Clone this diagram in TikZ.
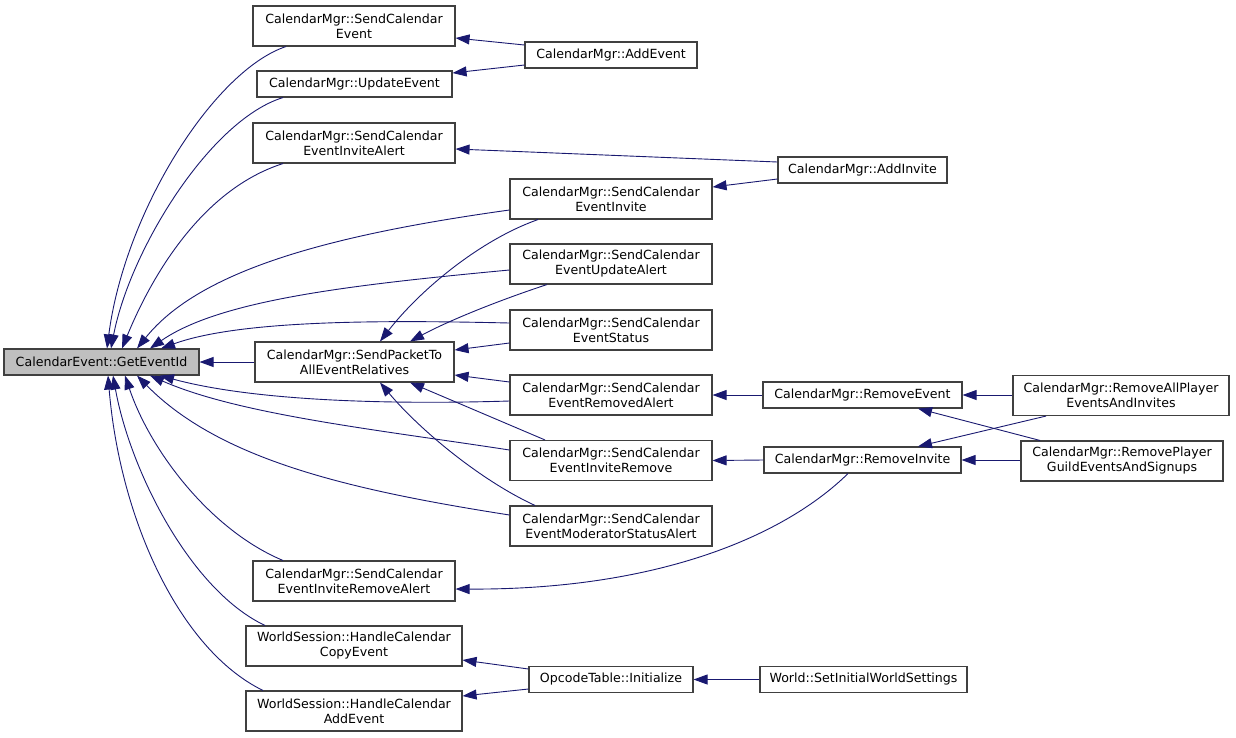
\documentclass[tikz,border=0pt]{standalone}
\usepackage{fontspec}
\setmainfont{DejaVu Sans}
\usetikzlibrary{arrows.meta}
\definecolor{edgeblue}{HTML}{191970}
\definecolor{boxline}{HTML}{404040}
\tikzset{
  fn/.style={draw=boxline, line width=1.1pt, fill=white, inner sep=0pt, align=center,
    font=\fontsize{12.6}{15}\selectfont},
  edge/.style={draw=edgeblue, line width=0.9pt, {Triangle[length=14pt,width=10pt]}-}
}
\begin{document}
\begin{tikzpicture}[x=1pt,y=-1pt]
\useasboundingbox (0,0) rectangle (1236,737);
% column 0
\node[fn, fill=black!25, minimum width=195pt, minimum height=26pt] (gid) at (101.5,362) {CalendarEvent::GetEventId};
% column 1
\node[fn, minimum width=202pt, minimum height=40pt] (sce) at (354,26) {CalendarMgr::SendCalendar\\Event};
\node[fn, minimum width=195pt, minimum height=26pt] (upd) at (354.5,84) {CalendarMgr::UpdateEvent};
\node[fn, minimum width=202pt, minimum height=40pt] (sia) at (354,143) {CalendarMgr::SendCalendar\\EventInviteAlert};
\node[fn, minimum width=199pt, minimum height=40pt] (spr) at (354.5,362) {CalendarMgr::SendPacketTo\\AllEventRelatives};
\node[fn, minimum width=202pt, minimum height=40pt] (sira) at (354,581) {CalendarMgr::SendCalendar\\EventInviteRemoveAlert};
\node[fn, minimum width=216pt, minimum height=40pt] (hcc) at (354,646) {WorldSession::HandleCalendar\\CopyEvent};
\node[fn, minimum width=216pt, minimum height=40pt] (hca) at (354,711) {WorldSession::HandleCalendar\\AddEvent};
% column 2
\node[fn, minimum width=172pt, minimum height=26pt] (ade) at (611,55) {CalendarMgr::AddEvent};
\node[fn, minimum width=202pt, minimum height=40pt] (sci) at (611,199) {CalendarMgr::SendCalendar\\EventInvite};
\node[fn, minimum width=202pt, minimum height=40pt] (sua) at (611,264) {CalendarMgr::SendCalendar\\EventUpdateAlert};
\node[fn, minimum width=202pt, minimum height=40pt] (sst) at (611,330) {CalendarMgr::SendCalendar\\EventStatus};
\node[fn, minimum width=202pt, minimum height=40pt] (sra) at (611,395) {CalendarMgr::SendCalendar\\EventRemovedAlert};
\node[fn, minimum width=202pt, minimum height=40pt] (sir) at (611,460.5) {CalendarMgr::SendCalendar\\EventInviteRemove};
\node[fn, minimum width=202pt, minimum height=40pt] (sms) at (611,526) {CalendarMgr::SendCalendar\\EventModeratorStatusAlert};
\node[fn, minimum width=164pt, minimum height=26pt] (opi) at (611,679.5) {OpcodeTable::Initialize};
% column 3
\node[fn, minimum width=169pt, minimum height=26pt] (adi) at (862.5,170) {CalendarMgr::AddInvite};
\node[fn, minimum width=199pt, minimum height=26pt] (rme) at (862.5,395) {CalendarMgr::RemoveEvent};
\node[fn, minimum width=197pt, minimum height=26pt] (rmi) at (862.5,460) {CalendarMgr::RemoveInvite};
\node[fn, minimum width=207pt, minimum height=26pt] (swi) at (863.5,679.5) {World::SetInitialWorldSettings};
% column 4
\node[fn, minimum width=216pt, minimum height=40pt] (rap) at (1121,395.5) {CalendarMgr::RemoveAllPlayer\\EventsAndInvites};
\node[fn, minimum width=202pt, minimum height=40pt] (rpg) at (1122,461) {CalendarMgr::RemovePlayer\\GuildEventsAndSignups};
% edges into GetEventId
\draw[edge] (gid.north -| 107,0) .. controls (125,210) and (215,70) .. (sce.south -| 286,0);
\draw[edge] (gid.north -| 111,0) .. controls (130,250) and (210,120) .. (upd.south -| 283,0);
\draw[edge] (gid.north -| 122,0) .. controls (150,280) and (200,190) .. (sia.south -| 283,0);
\draw[edge] (gid.north -| 137,0) .. controls (200,270) and (330,235) .. (sci.west |- 0,210);
\draw[edge] (gid.north -| 150,0) .. controls (220,300) and (350,285) .. (sua.west |- 0,270);
\draw[edge] (gid.north -| 161,0) .. controls (240,320) and (380,320) .. (sst.west |- 0,323);
\draw[edge] (gid.east) -- (spr.west);
\draw[edge] (gid.south -| 160,0) .. controls (250,400) and (380,405) .. (sra.west |- 0,401);
\draw[edge] (gid.south -| 150,0) .. controls (240,415) and (380,430) .. (sir.west |- 0,450);
\draw[edge] (gid.south -| 137,0) .. controls (220,460) and (350,490) .. (sms.west |- 0,515);
\draw[edge] (gid.south -| 125,0) .. controls (150,450) and (210,530) .. (sira.north -| 283,0);
\draw[edge] (gid.south -| 113,0) .. controls (130,470) and (190,590) .. (hcc.north -| 265,0);
\draw[edge] (gid.south -| 108,0) .. controls (120,520) and (180,650) .. (hca.north -| 263,0);
% other edges
\draw[edge] (sce.east |- 0,38) -- (ade.west |- 0,45);
\draw[edge] (upd.east |- 0,73) -- (ade.west |- 0,65);
\draw[edge] (sia.east |- 0,149) -- (adi.west |- 0,162);
\draw[edge] (sci.east |- 0,187) -- (adi.west |- 0,179);
\draw[edge] (spr.north -| 380,0) .. controls (420,290) and (480,240) .. (sci.south -| 538,0);
\draw[edge] (spr.north -| 410,0) .. controls (450,320) and (500,300) .. (sua.south -| 547,0);
\draw[edge] (spr.east |- 0,350) -- (sst.west |- 0,343);
\draw[edge] (spr.east |- 0,375) -- (sra.west |- 0,382);
\draw[edge] (spr.south -| 410,0) -- (sir.north -| 545,0);
\draw[edge] (spr.south -| 380,0) .. controls (420,430) and (480,480) .. (sms.north -| 535,0);
\draw[edge] (sra.east) -- (rme.west);
\draw[edge] (sir.east) -- (rmi.west);
\draw[edge] (sira.east |- 0,589) .. controls (650,590) and (780,540) .. (rmi.south -| 848,0);
\draw[edge] (rme.east) -- (rap.west |- 0,395);
\draw[edge] (rme.south -| 918,0) -- (rpg.north -| 1040,0);
\draw[edge] (rmi.north -| 918,0) -- (rap.south -| 1046,0);
\draw[edge] (rmi.east) -- (rpg.west |- 0,460);
\draw[edge] (hcc.east |- 0,660) -- (opi.west |- 0,669);
\draw[edge] (hca.east |- 0,696) -- (opi.west |- 0,689);
\draw[edge] (opi.east) -- (swi.west);
\end{tikzpicture}
\end{document}
